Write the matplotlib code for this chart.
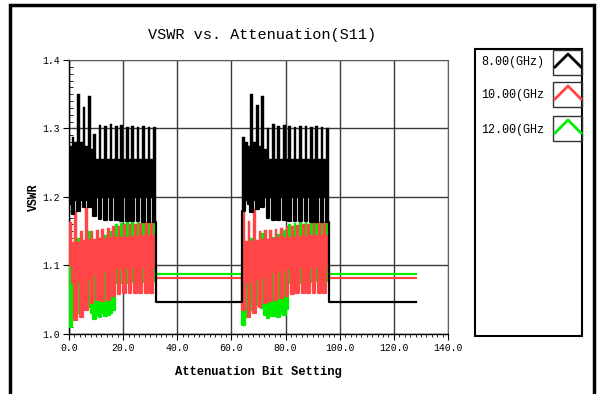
import numpy as np
import matplotlib.pyplot as plt
from matplotlib.patches import Rectangle
from matplotlib.lines import Line2D
from matplotlib.ticker import MultipleLocator

plt.rcParams['font.family'] = ['Liberation Mono', 'DejaVu Sans Mono']

# -----------------------------
# DATA (VSWR per attenuation state, min / max seen in each state)
# states 0-31 = block A, 64-95 = block B, the rest are flat
# -----------------------------
legend_labels = ["8.00(GHz)", "10.00(GHz", "12.00(GHz"]
colors = ["#000000", "#ff4545", "#00ee00"]
x_ticks = [0, 20, 40, 60, 80, 100, 120, 140]
y_ticks = [1.0, 1.1, 1.2, 1.3, 1.4]

black_hi_a = [1.275, 1.288, 1.280, 1.350, 1.280, 1.332, 1.275, 1.348, 1.270, 1.292,
              1.255, 1.305, 1.255, 1.304, 1.255, 1.306, 1.255, 1.303, 1.255, 1.305,
              1.255, 1.302, 1.255, 1.304, 1.255, 1.302, 1.255, 1.303, 1.255, 1.302,
              1.255, 1.302]
black_lo_a = [1.190, 1.175, 1.195, 1.180, 1.195, 1.185, 1.195, 1.185, 1.200, 1.172,
              1.200, 1.168, 1.200, 1.167, 1.200, 1.166, 1.200, 1.166, 1.200, 1.165,
              1.200, 1.165, 1.200, 1.165, 1.200, 1.165, 1.200, 1.164, 1.200, 1.164,
              1.200, 1.164]
black_hi_b = [1.288, 1.280, 1.275, 1.350, 1.280, 1.334, 1.275, 1.348, 1.270, 1.300,
              1.255, 1.306, 1.255, 1.303, 1.255, 1.305, 1.255, 1.304, 1.255, 1.302,
              1.255, 1.304, 1.255, 1.303, 1.255, 1.302, 1.255, 1.303, 1.255, 1.302,
              1.255, 1.301]
black_lo_b = [1.180, 1.195, 1.190, 1.178, 1.195, 1.182, 1.195, 1.186, 1.200, 1.170,
              1.200, 1.167, 1.200, 1.167, 1.200, 1.166, 1.200, 1.165, 1.200, 1.165,
              1.200, 1.165, 1.200, 1.165, 1.200, 1.164, 1.200, 1.164, 1.200, 1.164,
              1.200, 1.164]
black_flat = 1.047

red_hi_a = [1.163, 1.135, 1.180, 1.135, 1.150, 1.137, 1.186, 1.138, 1.150, 1.139,
            1.152, 1.140, 1.154, 1.140, 1.155, 1.141, 1.157, 1.141, 1.158, 1.142,
            1.160, 1.142, 1.160, 1.143, 1.161, 1.143, 1.162, 1.144, 1.163, 1.144,
            1.164, 1.145]
red_lo_a = [1.100, 1.075, 1.020, 1.078, 1.025, 1.080, 1.035, 1.082, 1.045, 1.088,
            1.050, 1.090, 1.048, 1.092, 1.050, 1.094, 1.055, 1.096, 1.058, 1.097,
            1.060, 1.098, 1.060, 1.098, 1.060, 1.098, 1.060, 1.098, 1.060, 1.098,
            1.060, 1.098]
red_hi_b = [1.178, 1.136, 1.165, 1.136, 1.182, 1.137, 1.150, 1.138, 1.152, 1.139,
            1.152, 1.140, 1.153, 1.141, 1.155, 1.141, 1.157, 1.142, 1.158, 1.142,
            1.159, 1.143, 1.160, 1.143, 1.161, 1.144, 1.162, 1.144, 1.163, 1.145,
            1.164, 1.145]
red_lo_b = [1.035, 1.076, 1.025, 1.078, 1.030, 1.080, 1.040, 1.083, 1.045, 1.088,
            1.048, 1.090, 1.050, 1.092, 1.052, 1.094, 1.055, 1.096, 1.058, 1.097,
            1.060, 1.098, 1.060, 1.098, 1.060, 1.098, 1.060, 1.098, 1.060, 1.098,
            1.060, 1.098]
red_flat = 1.082

green_hi_a = [1.135, 1.120, 1.125, 1.140, 1.120, 1.130, 1.125, 1.150, 1.100, 1.130,
              1.100, 1.140, 1.100, 1.145, 1.100, 1.150, 1.100, 1.160, 1.130, 1.162,
              1.130, 1.163, 1.130, 1.164, 1.130, 1.164, 1.130, 1.165, 1.130, 1.165,
              1.130, 1.165]
green_lo_a = [1.010, 1.020, 1.050, 1.030, 1.060, 1.045, 1.055, 1.040, 1.030, 1.022,
              1.028, 1.025, 1.030, 1.027, 1.028, 1.030, 1.035, 1.075, 1.090, 1.075,
              1.090, 1.075, 1.090, 1.076, 1.090, 1.076, 1.090, 1.076, 1.090, 1.077,
              1.090, 1.077]
green_hi_b = [1.130, 1.125, 1.120, 1.140, 1.125, 1.135, 1.120, 1.148, 1.100, 1.132,
              1.100, 1.142, 1.100, 1.146, 1.100, 1.152, 1.100, 1.161, 1.130, 1.162,
              1.130, 1.163, 1.130, 1.163, 1.130, 1.164, 1.130, 1.165, 1.130, 1.165,
              1.130, 1.165]
green_lo_b = [1.013, 1.025, 1.048, 1.035, 1.058, 1.042, 1.052, 1.038, 1.028, 1.024,
              1.026, 1.027, 1.029, 1.025, 1.030, 1.028, 1.036, 1.075, 1.090, 1.075,
              1.090, 1.075, 1.090, 1.076, 1.090, 1.076, 1.090, 1.077, 1.090, 1.077,
              1.090, 1.077]
green_flat = 1.087


def full(a, flat, b):
    return np.array(a + [flat] * 32 + b + [flat] * 32)


states = np.arange(128)
series = [
    (colors[2], full(green_hi_a, green_flat, green_hi_b), full(green_lo_a, green_flat, green_lo_b)),
    (colors[1], full(red_hi_a, red_flat, red_hi_b), full(red_lo_a, red_flat, red_lo_b)),
    (colors[0], full(black_hi_a, black_flat, black_hi_b), full(black_lo_a, black_flat, black_lo_b)),
]

# -----------------------------
# PLOT
# -----------------------------
W, H = 602, 394
fig = plt.figure(figsize=(W / 100, H / 100), dpi=100)
ax = fig.add_axes([69 / W, 1 - 334 / H, (448 - 69) / W, (334 - 60) / H])

for z, (c, hi, lo) in enumerate(series):
    ax.bar(states, hi - lo, bottom=lo, width=1.0, align='edge', color=c,
           edgecolor=c, linewidth=0.3, zorder=3 + z)
    ax.step(np.arange(129), np.append(lo, lo[-1]), where='post', color=c,
            lw=1.6, zorder=3 + z)

ax.set_xlim(0, 140)
ax.set_ylim(1.0, 1.4)
ax.set_xticks(x_ticks)
ax.set_xticklabels([f"{v:.1f}" for v in x_ticks])
ax.set_yticks(y_ticks)
ax.set_yticklabels([f"{v:.1f}" for v in y_ticks])
ax.xaxis.set_minor_locator(MultipleLocator(2))
ax.yaxis.set_minor_locator(MultipleLocator(0.01))
ax.tick_params(axis='both', which='major', labelsize=7, length=4, width=0.8,
               direction='out', pad=2.5)
ax.tick_params(axis='y', which='minor', direction='in', length=3, width=0.6)
ax.tick_params(axis='x', which='minor', direction='out', length=2.5, width=0.6)
ax.grid(True, which='major', color='#3a3a3a', lw=1.0)
ax.set_axisbelow(True)
for s in ['top', 'right']:
    ax.spines[s].set_color('#606060')
for s in ['left', 'bottom']:
    ax.spines[s].set_linewidth(1.0)

fig.text(262 / W, 1 - 35 / H, "VSWR vs. Attenuation(S11)", ha='center', va='center', fontsize=11)
fig.text(258 / W, 1 - 372 / H, "Attenuation Bit Setting", ha='center', va='center',
         fontsize=8.7, fontweight='bold')
fig.text(34 / W, 1 - 197 / H, "VSWR", ha='center', va='center', rotation=90,
         fontsize=8.3, fontweight='bold')

# outer frame
fig.patches.append(Rectangle((10 / W, -0.1), (594 - 10) / W, 1.1 - 5 / H, fill=False,
                             ec='black', lw=2.5, transform=fig.transFigure))

# legend box
fig.patches.append(Rectangle((475 / W, 1 - 336 / H), (582 - 475) / W, (336 - 49) / H,
                             fill=False, ec='black', lw=1.5, transform=fig.transFigure))
icon_tops = [50, 82, 116]
text_ys = [62, 95, 130]
for label, c, top, ty in zip(legend_labels, colors, icon_tops, text_ys):
    fig.patches.append(Rectangle((553 / W, 1 - (top + 25) / H), (582 - 553) / W, 25 / H,
                                 fill=False, ec='#333333', lw=1.0, transform=fig.transFigure))
    fig.lines.append(Line2D([555 / W, 568 / W, 581 / W],
                            [1 - (top + 17) / H, 1 - (top + 4) / H, 1 - (top + 17) / H],
                            color=c, lw=2.0, transform=fig.transFigure))
    fig.text(481 / W, 1 - ty / H, label, ha='left', va='center', fontsize=8.5)

fig.savefig("out.png", dpi=100)
